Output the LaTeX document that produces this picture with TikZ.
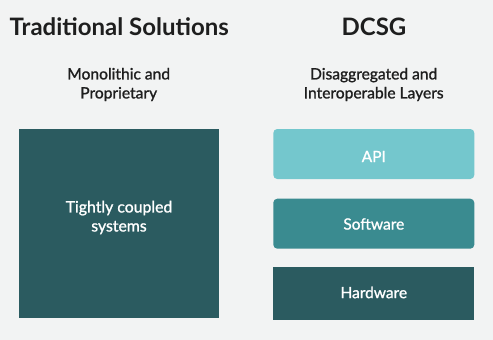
\documentclass[tikz,border=0pt]{standalone}
\usepackage{fontspec}
\setmainfont{Lato}
\newfontfamily\medfont{Lato}[RawFeature={embolden=1.2}]
\definecolor{bg}{HTML}{F2F3F3}
\definecolor{darkteal}{HTML}{2B5B60}
\definecolor{midteal}{HTML}{3A8B90}
\definecolor{lightteal}{HTML}{74C7CD}
\definecolor{titletext}{HTML}{1E1E1E}
\begin{document}
\begin{tikzpicture}[x=1pt,y=-1pt,
  title/.style={font=\fontsize{24}{28}\selectfont\bfseries, text=titletext, anchor=center, inner sep=0pt},
  subtitle/.style={font=\medfont\fontsize{15.6}{19}\selectfont, text=titletext, align=center, anchor=center, inner sep=0pt},
  layer/.style={text=white, font=\medfont\fontsize{15.5}{17}\selectfont, inner sep=0pt, anchor=center},
  boxtext/.style={text=white, font=\medfont\fontsize{15.8}{19}\selectfont, align=center, inner sep=0pt, anchor=center}]
\fill[bg] (0,0) rectangle (493,340);
\useasboundingbox (0,0) rectangle (493,340);
% headers
\node[title] (t1) at (119.3,27) {Traditional Solutions};
\node[title] (t2) at (374,27) {DCSG};
\node[subtitle] (s1) at (118.7,84.5) {Monolithic and\\Proprietary};
\node[subtitle] (s2) at (373.7,84.5) {Disaggregated and\\Interoperable Layers};
% left block
\fill[darkteal] (18.7,128.7) rectangle (219.3,317.7);
\node[boxtext] (mono) at (119,217.5) {Tightly coupled\\systems};
% right layers
\fill[lightteal, rounded corners=4pt] (273.3,129) rectangle (474.3,179);
\node[layer] (api) at (373.8,156.5) {API};
\fill[midteal, rounded corners=4pt] (273.3,198.7) rectangle (474.3,248.7);
\node[layer] (sw) at (373.8,224) {Software};
\fill[darkteal] (273.3,266.7) rectangle (474.3,320);
\node[layer] (hw) at (373.8,292.5) {Hardware};
\end{tikzpicture}
\end{document}
